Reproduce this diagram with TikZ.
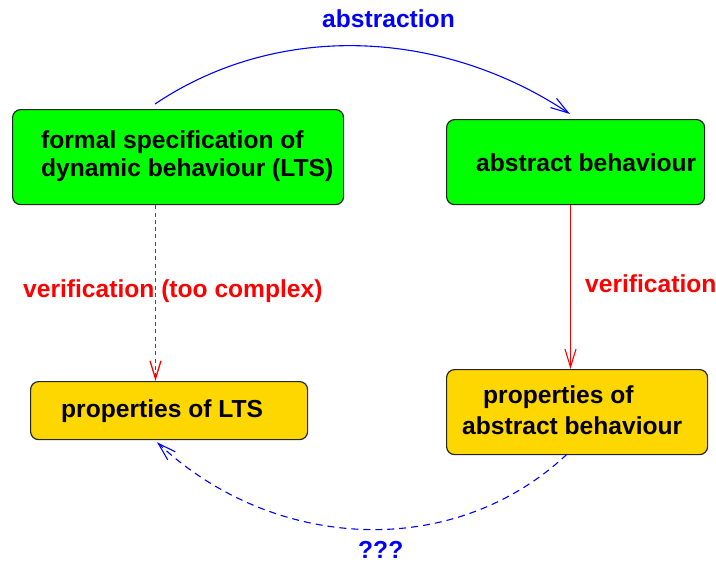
\documentclass[tikz,border=0pt]{standalone}
\usepackage{fontspec}
\setmainfont{Liberation Sans}
\usetikzlibrary{arrows.meta,calc}
\definecolor{boxgreen}{RGB}{0,255,0}
\definecolor{boxgold}{RGB}{255,215,0}
\definecolor{linkblue}{RGB}{0,0,255}
\definecolor{linkred}{RGB}{255,0,0}
\tikzset{
  box/.style={draw=black!85, line width=1.2pt, rounded corners=8pt,
    inner sep=0pt, anchor=north west},
  greenbox/.style={box, fill=boxgreen},
  goldbox/.style={box, fill=boxgold},
  txt/.style={anchor=base west, inner sep=0pt,
    font=\bfseries\fontsize{24.6}{29}\selectfont},
  link/.style={line width=1.1pt, -{Straight Barb[length=18pt,width=11pt]}},
}
\begin{document}
\begin{tikzpicture}[x=1pt, y=-1pt]
  \useasboundingbox (0,0) rectangle (716,563);

  % boxes
  \node[greenbox, minimum width=331pt, minimum height=95pt] (b1) at (12,109) {};
  \node[greenbox, minimum width=258pt, minimum height=85pt] (b2) at (446,119) {};
  \node[goldbox, minimum width=277pt, minimum height=58pt] (b3) at (30,381) {};
  \node[goldbox, minimum width=261pt, minimum height=85pt] (b4) at (446,369) {};

  % box texts
  \node[txt] (t1a) at (41,148) {formal specification of};
  \node[txt] (t1b) at (41,176) {dynamic behaviour (LTS)};
  \node[txt] (t2) at (476,171) {abstract behaviour};
  \node[txt] (t3) at (61,417) {properties of LTS};
  \node[txt] (t4a) at (483,403) {properties of};
  \node[txt] (t4b) at (462,434) {abstract behaviour};

  % connector end points
  \coordinate (aS) at ($(b1.north west)+(143,-5)$);
  \coordinate (aE) at ($(b2.north west)+(124,-5)$);
  \coordinate (v1) at ($(b1.south west)+(143.5,0)$);
  \coordinate (v2) at ($(b2.south west)+(124.5,0)$);
  \coordinate (qS) at ($(b4.south west)+(121,-1)$);
  \coordinate (qE) at ($(b3.south west)+(127,2)$);

  % abstraction
  \draw[link, draw=linkblue] (aS) .. controls +(125,-84) and +(-126,-84) .. (aE);
  \node[txt, text=linkblue] (labA) at (322,27) {abstraction};

  % verification of the full model
  \draw[link, draw=linkred, line width=1.3pt, dash pattern=on 4pt off 3.3pt] (v1) -- (v1 |- b3.north);
  \node[txt, text=linkred] (labV1) at (23,297) {verification (too complex)};

  % verification of the abstraction
  \draw[link, draw=linkred] (v2) -- (v2 |- b4.north);
  \node[txt, text=linkred] (labV2) at (585,292) {verification};

  % open question
  \draw[link, draw=linkblue, dash pattern=on 7pt off 5pt] (qS) .. controls +(-115,108) and +(115,108) .. (qE);
  \node[txt, text=linkblue] (labQ) at (358,558) {???};
\end{tikzpicture}
\end{document}
